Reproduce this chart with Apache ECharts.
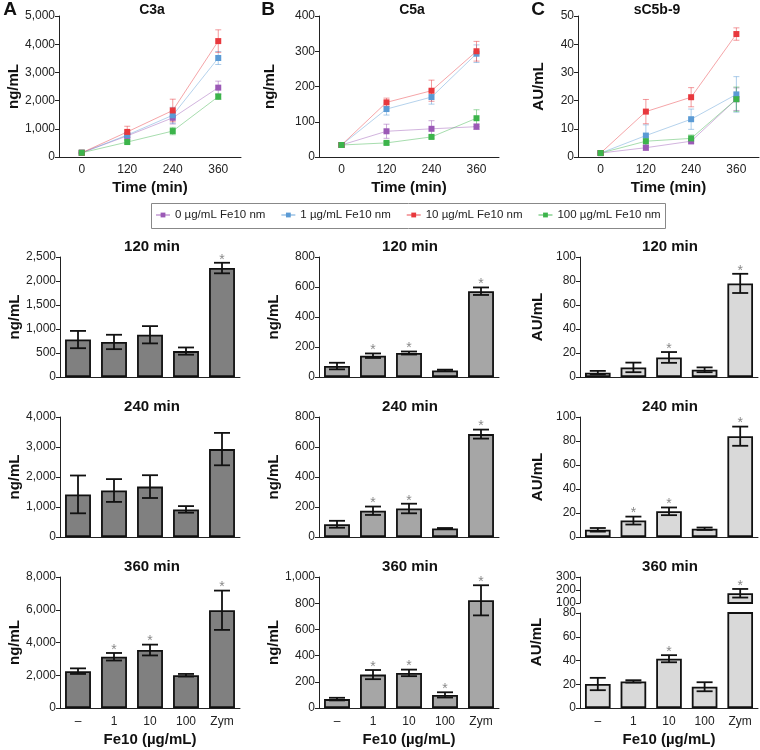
<!DOCTYPE html>
<html>
<head>
<meta charset="utf-8">
<script src="https://cdn.jsdelivr.net/npm/echarts@6/dist/echarts.min.js"></script>
<style>html,body{margin:0;padding:0;background:#fff}#c{width:760px;height:750px}</style>
</head>
<body>
<div id="c"></div>
<script>
// ---------- DATA ----------
const timePoints = ['0', '120', '240', '360'];
const doseNames = ['0 µg/mL Fe10 nm', '1 µg/mL Fe10 nm', '10 µg/mL Fe10 nm', '100 µg/mL Fe10 nm'];
// C3a (ng/mL) time course
const c3aDose0 = [150, 750, 1390, 2460];
const c3aDose1 = [150, 780, 1480, 3510];
const c3aDose10 = [150, 890, 1650, 4110];
const c3aDose100 = [150, 530, 920, 2140];
const c3aErr0 = [20, 110, 220, 230];
const c3aErr1 = [20, 150, 280, 230];
const c3aErr10 = [20, 200, 400, 400];
const c3aErr100 = [20, 60, 130, 100];
// C5a (ng/mL) time course
const c5aDose0 = [34, 73, 80, 86];
const c5aDose1 = [34, 136, 170, 293];
const c5aDose10 = [34, 155, 188, 300];
const c5aDose100 = [34, 40, 57, 110];
const c5aErr0 = [3, 20, 23, 8];
const c5aErr1 = [3, 17, 20, 25];
const c5aErr10 = [3, 12, 30, 28];
const c5aErr100 = [3, 4, 5, 24];
// sC5b-9 (AU/mL) time course
const sc5b9Dose0 = [1.4, 3.3, 5.6, 20.5];
const sc5b9Dose1 = [1.4, 7.6, 13.4, 22.2];
const sc5b9Dose10 = [1.4, 16.1, 21.2, 43.6];
const sc5b9Dose100 = [1.4, 5.6, 6.6, 20.5];
const sc5b9Err0 = [0.3, 1, 1, 4];
const sc5b9Err1 = [0.3, 3.8, 3.6, 6.3];
const sc5b9Err10 = [0.3, 4.3, 3.4, 2.2];
const sc5b9Err100 = [0.3, 1.5, 1.2, 4.3];
// Bar panels
const fe10Labels = ['–', '1', '10', '100', 'Zym'];
const c3a120 = [780, 730, 880, 540, 2270];
const c3a120Err = [180, 150, 180, 75, 110];
const c3a120Star = [0, 0, 0, 0, 1];
const c3a240 = [1420, 1550, 1680, 920, 2930];
const c3a240Err = [630, 380, 380, 110, 540];
const c3a240Star = [0, 0, 0, 0, 0];
const c3a360 = [2250, 3130, 3540, 2000, 5970];
const c3a360Err = [170, 230, 330, 80, 1200];
const c3a360Star = [0, 1, 1, 0, 1];
const c5a120 = [73, 142, 160, 44, 572];
const c5a120Err = [22, 15, 10, 5, 25];
const c5a120Star = [0, 1, 1, 0, 1];
const c5a240 = [85, 175, 190, 57, 686];
const c5a240Err = [23, 28, 32, 3, 30];
const c5a240Star = [0, 1, 1, 0, 1];
const c5a360 = [68, 255, 268, 100, 822];
const c5a360Err = [10, 35, 25, 20, 115];
const c5a360Star = [0, 1, 1, 1, 1];
const sc5b9_120 = [3.6, 8, 16.3, 6, 78];
const sc5b9_120Err = [1.5, 4, 4.5, 2, 8];
const sc5b9_120Star = [0, 0, 1, 0, 1];
const sc5b9_240 = [6, 13.7, 21.4, 6.9, 84];
const sc5b9_240Err = [1.5, 3.3, 3.2, 1, 8];
const sc5b9_240Star = [0, 1, 1, 0, 1];
const sc5b9_360 = [20.2, 22.4, 41.5, 17.9, 175];
const sc5b9_360Err = [5.2, 1, 3, 3.8, 33];
const sc5b9_360Star = [0, 0, 1, 0, 1];

// ---------- STYLE / LAYOUT ----------
const FONT = 'Arial, "Liberation Sans", sans-serif';
const doseColors = ['#9b59b6', '#5b9bd5', '#e8383d', '#3cb44b'];
const fmt = v => Number(v).toLocaleString('en-US');
const AX = '#222';
const grids = [], xAxes = [], yAxes = [], series = [], graphics = [];

function errRender(capHalf, color, width, opacity) {
  return function (params, api) {
    const x = api.value(0), m = api.value(1), e = api.value(2), star = api.value(3);
    const hi = api.coord([x, m + e]);
    const lo = api.coord([x, m - e]);
    const st = { stroke: color, lineWidth: width, opacity: opacity };
    const ch = [
      { type: 'line', shape: { x1: hi[0], y1: hi[1], x2: lo[0], y2: lo[1] }, style: st },
      { type: 'line', shape: { x1: hi[0] - capHalf, y1: hi[1], x2: hi[0] + capHalf, y2: hi[1] }, style: st },
      { type: 'line', shape: { x1: lo[0] - capHalf, y1: lo[1], x2: lo[0] + capHalf, y2: lo[1] }, style: st }
    ];
    if (star) {
      ch.push({ type: 'text', x: hi[0], y: hi[1] - 3,
        style: { text: '*', fill: '#888', font: '14px ' + FONT, align: 'center', verticalAlign: 'middle' } });
    }
    return { type: 'group', children: ch };
  };
}

function axisNameStyle() {
  return { fontWeight: 'bold', fontSize: 15, color: '#111', fontFamily: FONT };
}

function topPanel(left, width, ymax, yint, yname, nameGap, doses, errs) {
  const gi = grids.length;
  grids.push({ left: left, top: 16, width: width, height: 141 });
  xAxes.push({
    gridIndex: gi, type: 'category', data: timePoints, boundaryGap: true,
    axisLine: { lineStyle: { color: AX } },
    axisTick: { alignWithLabel: true, length: 3, lineStyle: { color: AX } },
    axisLabel: { fontSize: 12, color: '#222', margin: 7, fontFamily: FONT },
    name: 'Time (min)', nameLocation: 'middle', nameGap: 23, nameTextStyle: axisNameStyle()
  });
  yAxes.push({
    gridIndex: gi, type: 'value', min: 0, max: ymax, interval: yint,
    splitLine: { show: false },
    axisLine: { show: true, lineStyle: { color: AX } },
    axisTick: { show: true, length: 4, lineStyle: { color: AX } },
    axisLabel: { formatter: fmt, fontSize: 12, color: '#222', margin: 4, fontFamily: FONT },
    name: yname, nameLocation: 'middle', nameGap: nameGap, nameTextStyle: axisNameStyle()
  });
  doses.forEach((d, k) => {
    series.push({
      type: 'custom', xAxisIndex: gi, yAxisIndex: gi, silent: true, z: 2,
      renderItem: errRender(3, doseColors[k], 1, 0.5),
      data: d.map((v, i) => [i, v, errs[k][i], 0])
    });
    series.push({
      type: 'line', name: doseNames[k], xAxisIndex: gi, yAxisIndex: gi, data: d,
      symbol: 'rect', symbolSize: 6, z: 3, silent: true,
      itemStyle: { color: doseColors[k] },
      lineStyle: { width: 1, color: doseColors[k], opacity: 0.45 }
    });
  });
}

function barAxes(gi, showLabels, ymin, ymax, yint, yname, nameGap, showX) {
  xAxes.push({
    gridIndex: gi, type: 'category', data: fe10Labels, boundaryGap: true, show: showX !== false,
    axisLine: { lineStyle: { color: AX, width: 1 } },
    axisTick: { alignWithLabel: true, length: 4, lineStyle: { color: AX } },
    axisLabel: { show: showLabels, fontSize: 12, color: '#222', margin: 8, fontFamily: FONT },
    name: showLabels ? 'Fe10 (µg/mL)' : '', nameLocation: 'middle', nameGap: 24, nameTextStyle: axisNameStyle()
  });
  yAxes.push({
    gridIndex: gi, type: 'value', min: ymin, max: ymax, interval: yint,
    splitLine: { show: false },
    axisLine: { show: true, lineStyle: { color: AX } },
    axisTick: { show: true, length: 4, lineStyle: { color: AX } },
    axisLabel: { formatter: fmt, fontSize: 12, color: '#222', margin: 4, fontFamily: FONT },
    name: yname, nameLocation: 'middle', nameGap: nameGap, nameTextStyle: axisNameStyle()
  });
}

// keep: null = all bars and error bars; otherwise function(v) -> 'err' (bar + error bar), true (bar only), false (nothing)
function barSeries(gi, vals, errs, stars, color, keep) {
  series.push({
    type: 'bar', xAxisIndex: gi, yAxisIndex: gi, silent: true, barWidth: '72%', clip: true,
    data: vals.map(v => (keep === null || keep(v)) ? v : '-'),
    itemStyle: { color: color, borderColor: '#111', borderWidth: 1.8 }
  });
  const ed = [];
  vals.forEach((v, i) => { if (keep === null || keep(v) === 'err') ed.push([i, v, errs[i], stars[i]]); });
  series.push({
    type: 'custom', xAxisIndex: gi, yAxisIndex: gi, silent: true, z: 3,
    renderItem: errRender(8, '#111', 1.8, 1), data: ed
  });
}

function barPanel(left, width, top, height, ymax, yint, vals, errs, stars, color, showLabels, yname, nameGap) {
  const gi = grids.length;
  grids.push({ left: left, top: top, width: width, height: height });
  barAxes(gi, showLabels, 0, ymax, yint, yname, nameGap);
  barSeries(gi, vals, errs, stars, color, null);
}

// Top row
topPanel(59, 182, 5000, 1000, 'ng/mL', 36,
  [c3aDose0, c3aDose1, c3aDose10, c3aDose100], [c3aErr0, c3aErr1, c3aErr10, c3aErr100]);
topPanel(319, 180, 400, 100, 'ng/mL', 42,
  [c5aDose0, c5aDose1, c5aDose10, c5aDose100], [c5aErr0, c5aErr1, c5aErr10, c5aErr100]);
topPanel(578, 181, 50, 10, 'AU/mL', 32,
  [sc5b9Dose0, sc5b9Dose1, sc5b9Dose10, sc5b9Dose100], [sc5b9Err0, sc5b9Err1, sc5b9Err10, sc5b9Err100]);

// Bar rows
const colA = '#808080', colB = '#a6a6a6', colC = '#d9d9d9';
barPanel(60, 180, 257, 120, 2500, 500, c3a120, c3a120Err, c3a120Star, colA, false, 'ng/mL', 38);
barPanel(319, 180, 257, 120, 800, 200, c5a120, c5a120Err, c5a120Star, colB, false, 'ng/mL', 38);
barPanel(580, 178, 257, 120, 100, 20, sc5b9_120, sc5b9_120Err, sc5b9_120Star, colC, false, 'AU/mL', 35);
barPanel(60, 180, 417, 120, 4000, 1000, c3a240, c3a240Err, c3a240Star, colA, false, 'ng/mL', 38);
barPanel(319, 180, 417, 120, 800, 200, c5a240, c5a240Err, c5a240Star, colB, false, 'ng/mL', 38);
barPanel(580, 178, 417, 120, 100, 20, sc5b9_240, sc5b9_240Err, sc5b9_240Star, colC, false, 'AU/mL', 35);
barPanel(60, 180, 577, 131, 8000, 2000, c3a360, c3a360Err, c3a360Star, colA, true, 'ng/mL', 38);
barPanel(319, 180, 577, 131, 1000, 200, c5a360, c5a360Err, c5a360Star, colB, true, 'ng/mL', 38);

// sC5b-9 360 min with broken axis
const brkLow = 80;
(function () {
  const gLow = grids.length;
  grids.push({ left: 580, top: 613, width: 178, height: 95 });
  barAxes(gLow, true, 0, brkLow, 20, '', 35);
  barSeries(gLow, sc5b9_360, sc5b9_360Err, sc5b9_360Star, colC,
    v => (v <= brkLow ? 'err' : true));
  const gUp = grids.length;
  grids.push({ left: 580, top: 577, width: 178, height: 26 });
  barAxes(gUp, false, 100, 300, 100, '', 35, true);
  xAxes[gUp].axisLine = { show: false };
  xAxes[gUp].axisTick = { show: false };
  barSeries(gUp, sc5b9_360, sc5b9_360Err, sc5b9_360Star, colC,
    v => (v > brkLow ? 'err' : false));
  graphics.push({ type: 'text', x: 537, y: 642, rotation: Math.PI / 2,
    style: { text: 'AU/mL', font: 'bold 15px ' + FONT, fill: '#111', align: 'center', verticalAlign: 'middle' } });
})();

// Titles and panel letters
const titleDefs = [
  ['C3a', 152, 10, 14], ['C5a', 412, 10, 14], ['sC5b-9', 657, 10, 14],
  ['120 min', 152, 247, 15], ['120 min', 410, 247, 15], ['120 min', 670, 247, 15],
  ['240 min', 152, 407, 15], ['240 min', 410, 407, 15], ['240 min', 670, 407, 15],
  ['360 min', 152, 567, 15], ['360 min', 410, 567, 15], ['360 min', 670, 567, 15],
  ['A', 10, 10, 19], ['B', 268, 10, 19], ['C', 538, 10, 19]
];
titleDefs.forEach(t => graphics.push({
  type: 'text', x: t[1], y: t[2],
  style: { text: t[0], font: 'bold ' + t[3] + 'px ' + FONT, fill: '#111', align: 'center', verticalAlign: 'middle' }
}));
graphics.push({ type: 'rect', shape: { x: 151.5, y: 203.5, width: 514, height: 25 },
  style: { fill: 'none', stroke: '#888', lineWidth: 1 } });

const chart = echarts.init(document.getElementById('c'), null, { renderer: 'canvas' });
chart.setOption({
  animation: false,
  backgroundColor: '#fff',
  textStyle: { fontFamily: FONT },
  grid: grids,
  xAxis: xAxes,
  yAxis: yAxes,
  series: series,
  graphic: graphics,
  legend: {
    data: doseNames, left: 155, top: 209, itemWidth: 14, itemHeight: 6, itemGap: 15, padding: 0,
    selectedMode: false,
    textStyle: { fontSize: 11.5, color: '#222', fontFamily: FONT }
  }
});
</script>
</body>
</html>
